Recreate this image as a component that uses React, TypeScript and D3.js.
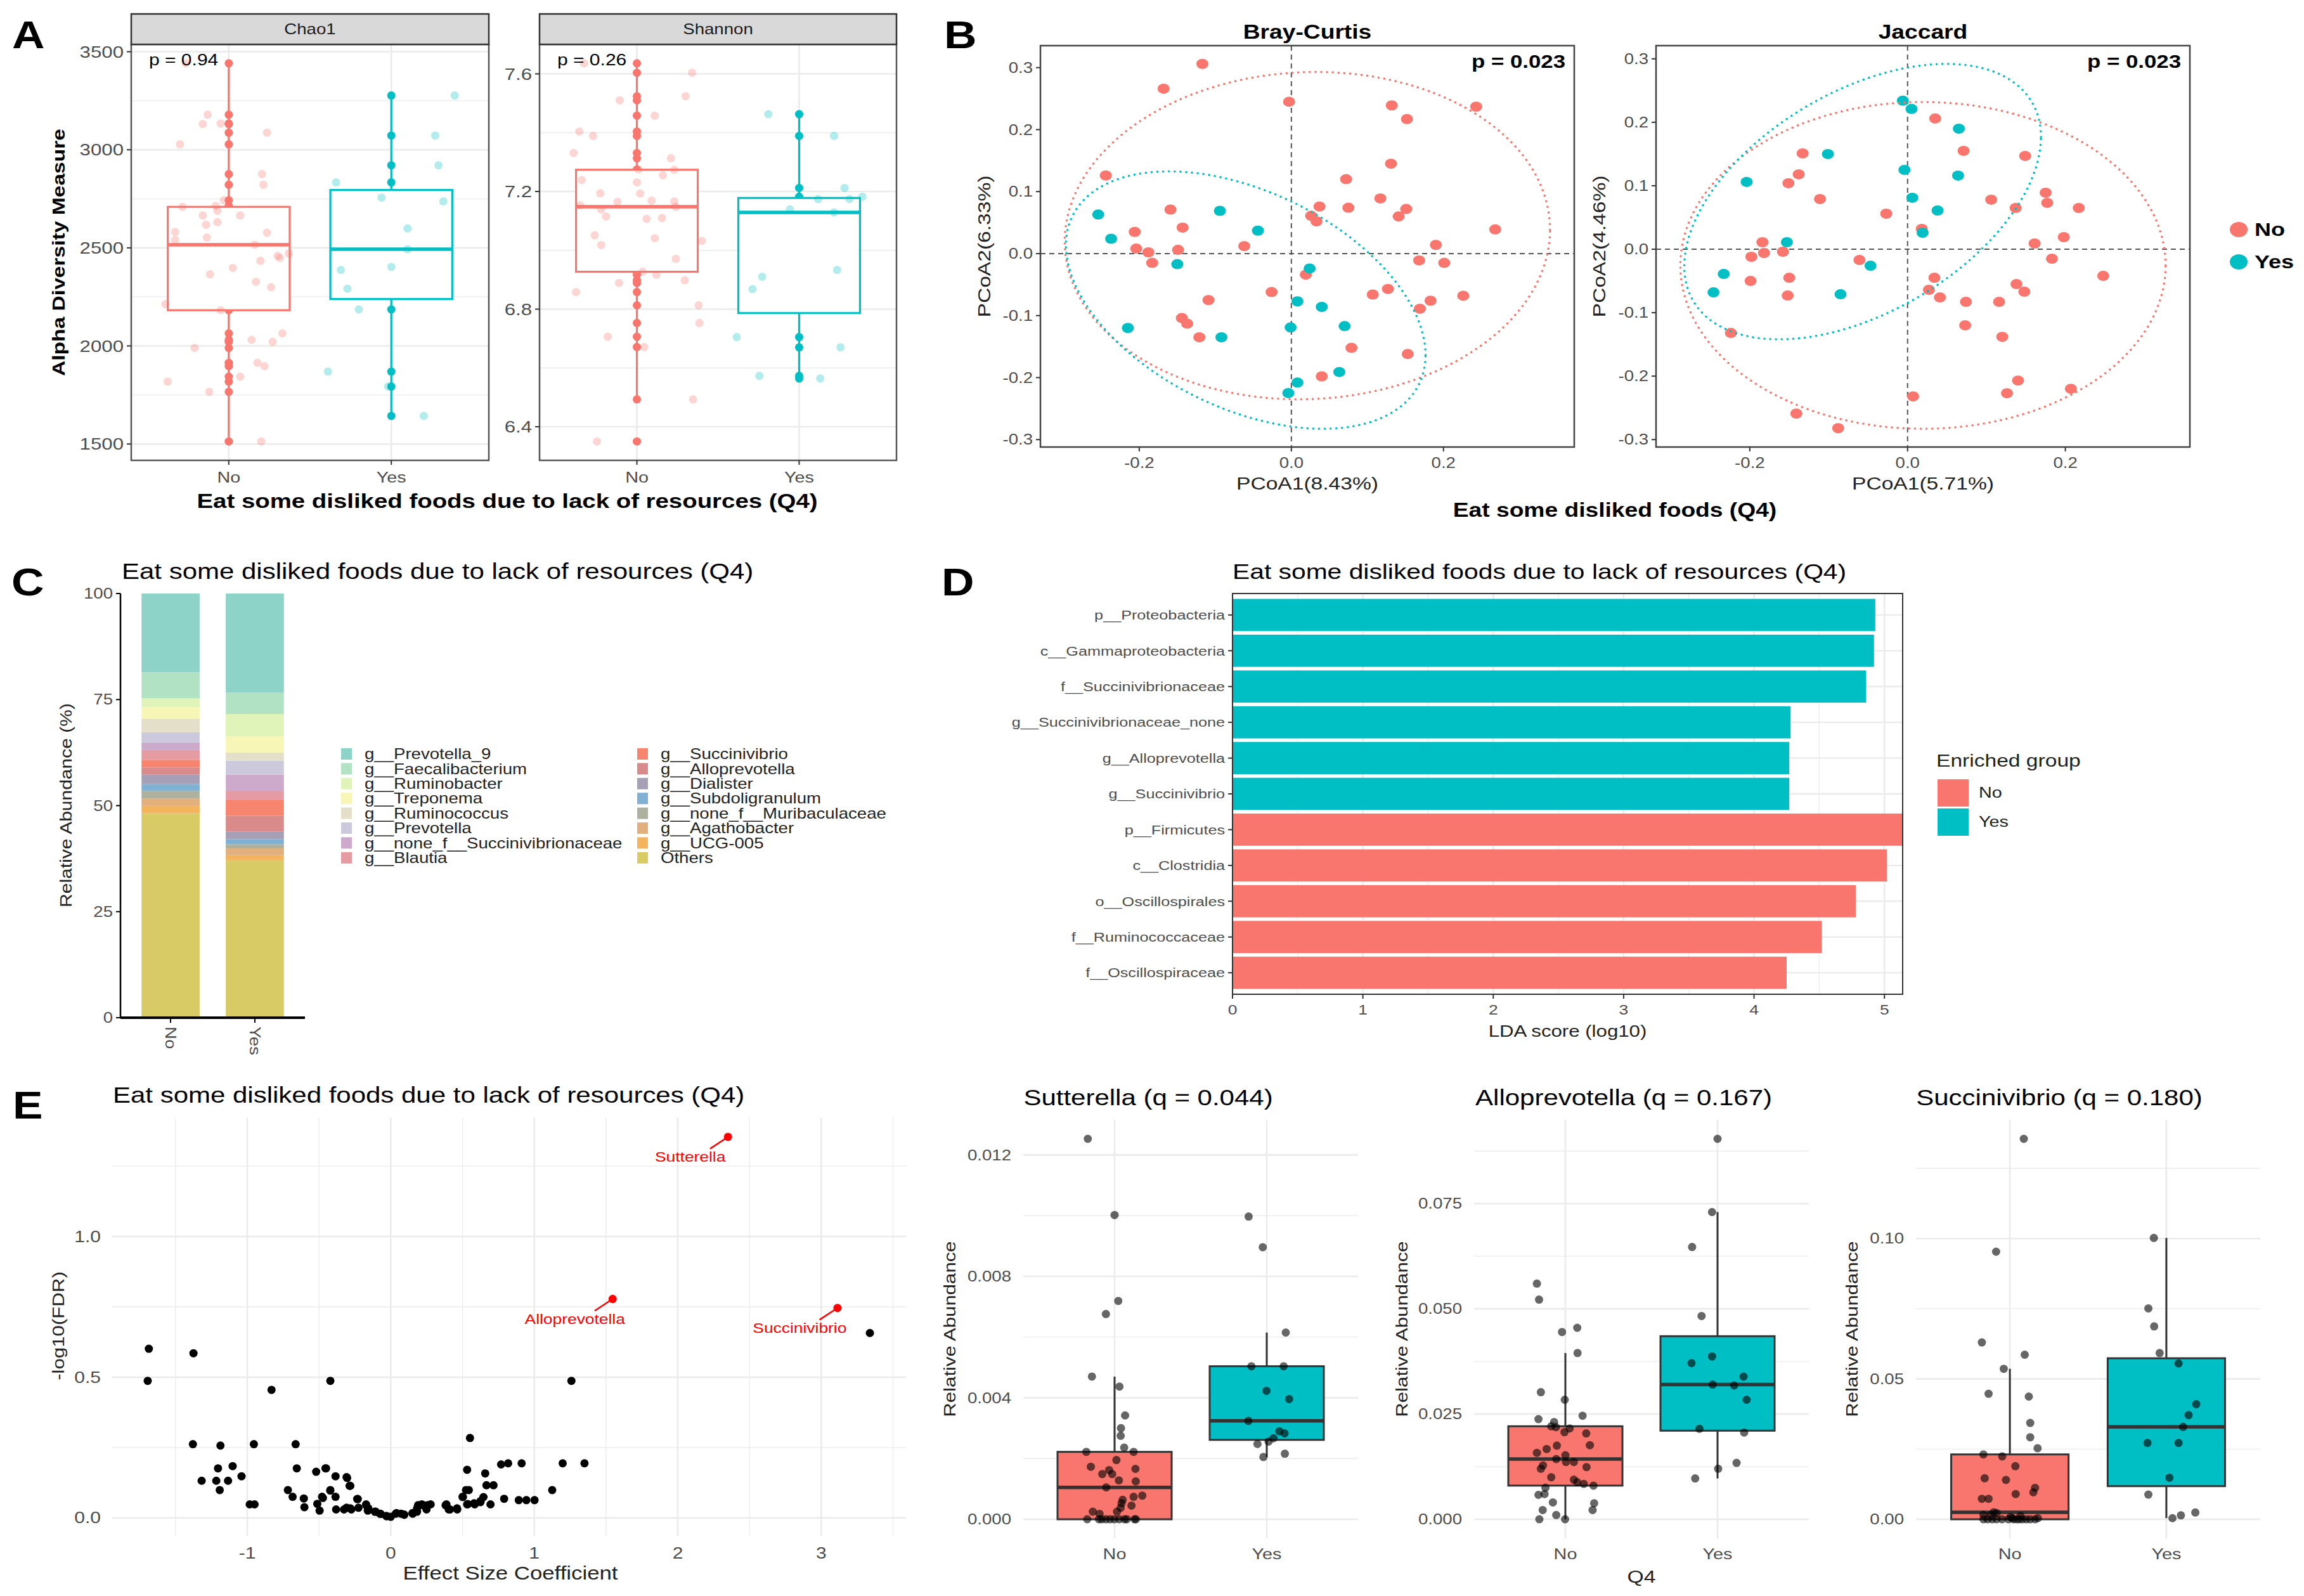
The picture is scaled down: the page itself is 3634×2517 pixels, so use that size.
import type { ReactNode } from "react";
import { scaleLinear, scaleBand, quantile, ascending, extent, stack, range, line } from "d3";

// ---------- A: alpha diversity ----------
const groupLabels = ["No", "Yes"];
const chao1No = [3441, 3179, 3131, 3134, 3087, 3028, 2876, 2822, 2743, 2709, 2714, 2689, 2665, 2665, 2618, 2631, 2581, 2577, 2540, 2553, 2516, 2471, 2459, 2449, 2434, 2398, 2365, 2327, 2299, 2213, 2182, 2064, 2031, 2021, 1990, 1914, 1897, 1818, 1843, 1766, 1513];
const chao1NoJit = [-0.265, -0.13, -0.16, -0.05, 0.235, -0.3, 0.205, 0.213, -0.03, -0.285, -0.08, -0.07, -0.16, 0.07, -0.14, -0.07, -0.33, 0.235, -0.33, -0.135, 0.16, 0.37, 0.3, 0.315, 0.195, 0.025, -0.115, 0.167, 0.26, -0.39, -0.05, 0.33, 0.14, 0.27, -0.21, 0.177, 0.22, -0.376, 0.07, -0.12, 0.2];
const chao1Yes = [3277, 3073, 2921, 2834, 2756, 2737, 2599, 2493, 2403, 2387, 2292, 2186, 1869, 1793, 1643];
const chao1YesJit = [0.39, 0.27, 0.29, -0.34, -0.06, 0.32, 0.1, 0.1, 0, -0.31, -0.27, -0.2, -0.39, -0.02, 0.2];
const shannonNo = [7.636, 7.604, 7.51, 7.524, 7.458, 7.404, 7.389, 7.331, 7.313, 7.274, 7.239, 7.231, 7.255, 7.194, 7.193, 7.165, 7.169, 7.166, 7.153, 7.139, 7.148, 7.115, 7.107, 7.11, 7.051, 7.041, 7.018, 7.032, 6.971, 6.927, 6.917, 6.889, 6.898, 6.858, 6.813, 6.753, 6.706, 6.671, 6.493, 6.35, 7.275];
const shannonNoJit = [-0.326, 0.34, -0.106, 0.3, 0.11, -0.355, -0.27, -0.39, 0.21, 0.23, -0.34, 0, 0.16, -0.226, 0.02, -0.12, 0.09, 0.23, -0.35, -0.22, 0.24, -0.19, 0.06, 0.155, -0.26, 0.11, -0.22, 0.4, 0.24, 0.035, 0.12, -0.11, 0.295, -0.375, 0.38, 0.385, -0.18, 0.045, 0.346, -0.246, 0.01];
const shannonYes = [7.463, 7.389, 7.212, 7.182, 7.174, 7.174, 7.139, 7.129, 6.933, 6.91, 6.868, 6.705, 6.67, 6.573, 6.564];
const shannonYesJit = [-0.19, 0.215, 0.28, 0.39, 0.117, 0.31, -0.057, 0.215, 0.234, -0.228, -0.288, -0.385, 0.255, -0.245, 0.13];
const chao1Ticks = [1500, 2000, 2500, 3000, 3500];
const shannonTicks = [6.4, 6.8, 7.2, 7.6];

// ---------- B: PCoA ----------
const brayNoX = [-0.117, -0.168, -0.003, 0.132, 0.243, 0.152, 0.131, -0.244, 0.072, 0.117, -0.159, 0.037, 0.075, 0.151, 0.026, 0.141, 0.033, -0.143, 0.268, -0.206, -0.062, 0.19, -0.204, -0.149, -0.188, -0.183, 0.168, 0.201, 0.019, -0.026, 0.127, 0.107, 0.226, -0.109, 0.183, 0.169, -0.144, -0.137, -0.121, 0.079, 0.153, 0.04];
const brayNoY = [0.306, 0.266, 0.245, 0.239, 0.237, 0.217, 0.145, 0.126, 0.12, 0.089, 0.071, 0.076, 0.074, 0.072, 0.061, 0.06, 0.052, 0.042, 0.039, 0.035, 0.012, 0.014, 0.008, 0.006, 0.002, -0.015, -0.011, -0.015, -0.034, -0.062, -0.057, -0.066, -0.068, -0.075, -0.076, -0.089, -0.104, -0.113, -0.135, -0.152, -0.162, -0.198];
const brayYesX = [-0.254, -0.094, -0.044, -0.237, -0.15, 0.024, 0.008, 0.04, -0.215, -0.001, 0.07, -0.092, 0.063, 0.008, -0.004];
const brayYesY = [0.063, 0.069, 0.037, 0.024, -0.017, -0.024, -0.077, -0.086, -0.12, -0.119, -0.117, -0.135, -0.191, -0.208, -0.225];
const jacNoX = [0.035, 0.071, 0.149, -0.133, -0.138, -0.151, -0.111, 0.106, 0.175, 0.177, 0.217, 0.137, -0.027, 0.018, 0.198, 0.161, -0.184, -0.158, -0.182, -0.198, 0.183, -0.061, 0.248, 0.034, -0.15, -0.199, 0.138, 0.027, 0.148, -0.152, 0.041, 0.074, 0.116, 0.073, 0.12, -0.224, 0.14, 0.207, 0.126, 0.007, -0.141, -0.088];
const jacNoY = [0.206, 0.155, 0.147, 0.151, 0.118, 0.104, 0.079, 0.078, 0.089, 0.073, 0.065, 0.065, 0.056, 0.032, 0.019, 0.009, 0.011, -0.004, -0.006, -0.012, -0.015, -0.017, -0.042, -0.045, -0.045, -0.05, -0.055, -0.064, -0.067, -0.073, -0.076, -0.083, -0.083, -0.12, -0.138, -0.132, -0.207, -0.22, -0.227, -0.232, -0.259, -0.282];
const jacYesX = [-0.006, 0.005, 0.065, -0.101, -0.004, 0.064, -0.204, 0.006, 0.038, 0.019, -0.153, -0.047, -0.233, -0.085, -0.246];
const jacYesY = [0.234, 0.221, 0.19, 0.15, 0.125, 0.116, 0.106, 0.081, 0.061, 0.026, 0.011, -0.026, -0.039, -0.071, -0.068];
// ellipse: centre x, centre y, var x, var y, cov
const brayEllNo = [0.021, 0.029, 0.1018, 0.0697, 0.003];
const brayEllYes = [-0.06, -0.075, 0.0559, 0.0431, -0.021];
const jacEllNo = [0.0195, -0.0255, 0.0946, 0.0663, 0];
const jacEllYes = [-0.057, 0.075, 0.0511, 0.0471, 0.023];
const pcoaXTicks = [-0.2, 0, 0.2];
const pcoaYTicks = [-0.3, -0.2, -0.1, 0, 0.1, 0.2, 0.3];

// ---------- C: composition ----------
const genera = ["g__Prevotella_9", "g__Faecalibacterium", "g__Ruminobacter", "g__Treponema", "g__Ruminococcus", "g__Prevotella", "g__none_f__Succinivibrionaceae", "g__Blautia", "g__Succinivibrio", "g__Alloprevotella", "g__Dialister", "g__Subdoligranulum", "g__none_f__Muribaculaceae", "g__Agathobacter", "g__UCG-005", "Others"];
const genusColors = ["#8DD3C7", "#B2E2C4", "#E0F3B9", "#F7F6B7", "#E3DFC8", "#CBC9DB", "#CDAACB", "#E49CA2", "#F7846F", "#D98A8B", "#A79FB5", "#80B1D3", "#AFB19F", "#E1B07C", "#F3B45C", "#D8CB66"];
const abundNo = [18.6, 6.1, 2.1, 2.7, 3.2, 2.4, 1.8, 2.3, 1.8, 1.7, 2.2, 1.7, 1.7, 1.8, 1.7, 48.2];
const abundYes = [23.4, 5.0, 5.3, 3.8, 1.9, 3.3, 3.8, 2.1, 3.8, 3.7, 1.8, 1.2, 1.0, 1.6, 1.2, 37.1];
const abundTicks = [0, 25, 50, 75, 100];

// ---------- D: LEfSe ----------
const ldaTaxa = ["p__Proteobacteria", "c__Gammaproteobacteria", "f__Succinivibrionaceae", "g__Succinivibrionaceae_none", "g__Alloprevotella", "g__Succinivibrio", "p__Firmicutes", "c__Clostridia", "o__Oscillospirales", "f__Ruminococcaceae", "f__Oscillospiraceae"];
const ldaScores = [4.93, 4.92, 4.86, 4.28, 4.27, 4.27, 5.14, 5.02, 4.78, 4.52, 4.25];
const ldaGroup = ["Yes", "Yes", "Yes", "Yes", "Yes", "Yes", "No", "No", "No", "No", "No"];
const ldaTicks = [0, 1, 2, 3, 4, 5];

// ---------- E: volcano ----------
const volcX = [-1.686, -1.694, -1.375, -0.421, -0.831, 1.259, 3.339, 0.552, -1.379, -1.187, -0.954, -0.663, -1.204, -1.102, -1.318, -1.216, -1.134, -1.192, -1.04, -0.983, -0.949, -0.655, -0.52, -0.455, -0.385, -0.308, -0.287, -0.717, -0.684, -0.606, -0.602, -0.512, -0.496, -0.479, -0.421, -0.385, -0.381, -0.308, -0.275, -0.234, -0.225, -0.172, -0.16, -0.111, -0.07, -0.029, 0, 0.04, 0.093, 0.151, 0.183, 0.216, 0.249, 0.278, 0.388, 0.413, 0.462, 0.503, 0.524, 0.544, 0.532, 0.532, 0.585, 0.626, 0.646, 0.695, 0.658, 0.667, 0.716, 0.769, 0.818, 0.79, 0.912, 0.892, 0.945, 1.002, 1.125, 1.198, 1.35, 0.5, 0.537, 0.581, 0.625, 0.382, 0.404, 0.463, 0.19, 0.227, 0.257, 0.153, 0.183, -0.031, 0.035, 0.072, 0.094, -0.105, -0.075, -0.326, -0.282, -0.23, -0.171, -0.156, -0.451, -0.304, -0.282, -0.422, -0.473];
const volcY = [0.601, 0.487, 0.585, 0.487, 0.455, 0.487, 0.657, 0.284, 0.262, 0.257, 0.262, 0.262, 0.176, 0.184, 0.132, 0.132, 0.132, 0.099, 0.148, 0.048, 0.048, 0.176, 0.164, 0.176, 0.148, 0.145, 0.114, 0.099, 0.075, 0.069, 0.038, 0.05, 0.026, 0.075, 0.099, 0.075, 0.03, 0.036, 0.03, 0.067, 0.036, 0.048, 0.026, 0.022, 0.014, 0.006, 0.004, 0.017, 0.012, 0.017, 0.034, 0.048, 0.03, 0.048, 0.048, 0.03, 0.034, 0.074, 0.099, 0.099, 0.171, 0.048, 0.048, 0.06, 0.074, 0.048, 0.158, 0.116, 0.116, 0.19, 0.194, 0.068, 0.194, 0.063, 0.063, 0.063, 0.099, 0.194, 0.194, 0.075, 0.049, 0.052, 0.056, 0.045, 0.03, 0.03, 0.045, 0.045, 0.045, 0.015, 0.022, 0.007, 0.015, 0.015, 0.011, 0.022, 0.015, 0.03, 0.034, 0.067, 0.045, 0.034, 0.176, 0.142, 0.114, 0.097, 0.071];
const hitNames = ["Sutterella", "Alloprevotella", "Succinivibrio"];
const hitX = [2.35, 1.546, 3.113];
const hitY = [1.354, 0.778, 0.746];
const volcXTicks = [-1, 0, 1, 2, 3];
const volcYTicks = [0, 0.5, 1.0];

// ---------- E: abundance boxplots ----------
const suttNo = [0.01253, 0.01002, 0.00719, 0.00676, 0.0047, 0.00437, 0.00342, 0.003, 0.00275, 0.00236, 0.00222, 0.00222, 0.00195, 0.00173, 0.00166, 0.00162, 0.00149, 0.00149, 0.00128, 0.00125, 0.00105, 0.00064, 0.00078, 0.00074, 0.00053, 0.00045, 0.00038, 0.00025, 0.00025, 0.00018, 0, 0, 0, 0, 0, 0, 0, 0, 0, 0, 0];
const suttNoJit = [-0.176, 0, 0.024, -0.057, -0.149, 0.032, 0.069, 0.042, 0.04, 0.063, -0.186, 0.125, 0.012, -0.156, 0.137, -0.036, -0.081, -0.016, 0.028, 0.139, -0.055, 0.053, 0.182, 0.125, 0.046, 0.111, 0.04, -0.143, 0.016, -0.099, -0.18, -0.103, -0.057, 0.03, 0.065, 0.131, -0.002, -0.085, -0.03, 0.08, 0.14];
const suttYes = [0.00997, 0.00896, 0.00615, 0.00504, 0.00504, 0.00423, 0.00396, 0.00324, 0.0029, 0.00283, 0.00267, 0.00248, 0.00256, 0.00216, 0.00205];
const suttYesJit = [-0.119, -0.026, 0.125, -0.101, 0.111, -0.002, 0.147, -0.121, 0.083, 0.117, 0.044, -0.061, 0.012, 0.119, -0.022];
const alloNo = [0.056, 0.0522, 0.0445, 0.0455, 0.0395, 0.0302, 0.0284, 0.0238, 0.0246, 0.0221, 0.0231, 0.0219, 0.0216, 0.0207, 0.0204, 0.0176, 0.0167, 0.0175, 0.0158, 0.0152, 0.0143, 0.0136, 0.0136, 0.0128, 0.012, 0.0124, 0.01, 0.0094, 0.0088, 0.0084, 0.008, 0.0075, 0.0058, 0.006, 0.004, 0.0038, 0.0022, 0.0022, 0.001, 0, 0];
const alloNoJit = [-0.187, -0.173, -0.022, 0.078, 0.08, -0.161, -0.004, -0.177, 0.113, -0.093, -0.074, -0.062, 0.028, -0.006, 0.137, 0.161, -0.123, -0.056, -0.187, 0, -0.06, 0.004, 0.056, -0.147, -0.161, 0.139, -0.093, 0.056, 0.078, 0.121, 0.185, -0.131, -0.177, -0.137, -0.082, 0.189, -0.149, 0.179, -0.06, -0.171, -0.002];
const alloYes = [0.0904, 0.073, 0.0647, 0.0483, 0.0387, 0.0371, 0.0339, 0.032, 0.0318, 0.0284, 0.0215, 0.0206, 0.0134, 0.012, 0.0097];
const alloYesJit = [0, -0.036, -0.167, -0.105, -0.036, -0.171, 0.171, -0.032, 0.109, 0.191, -0.119, 0.175, 0.125, 0.004, -0.147];
const succNo = [0.1355, 0.0953, 0.063, 0.0586, 0.0536, 0.0447, 0.0437, 0.0343, 0.0292, 0.0253, 0.0231, 0.0224, 0.0189, 0.0146, 0.014, 0.0112, 0.009, 0.0096, 0.0073, 0.0073, 0.0025, 0.0016, 0.0016, 0.0022, 0.0008, 0.0012, 0, 0, 0, 0, 0, 0, 0, 0.0004, 0, 0, 0, 0, 0.0004, 0, 0];
const succNoJit = [0.089, -0.088, -0.179, 0.095, -0.039, -0.136, 0.121, 0.13, 0.13, 0.177, -0.169, -0.049, 0.035, -0.161, -0.025, 0.161, 0.037, 0.15, -0.179, -0.136, -0.103, -0.169, -0.123, -0.084, 0.004, 0.068, -0.142, -0.113, -0.01, 0.023, 0.043, 0.105, 0.161, 0.179, -0.169, -0.05, 0.13, 0.08, 0.015, -0.085, 0.06];
const succYes = [0.1002, 0.0751, 0.0687, 0.0592, 0.0555, 0.041, 0.0371, 0.0329, 0.0272, 0.0272, 0.0148, 0.0088, 0.0004, 0.0014, 0.0024];
const succYesJit = [-0.08, -0.115, -0.078, -0.043, 0.078, 0.191, 0.142, 0.107, -0.121, 0.078, 0.019, -0.115, 0.039, 0.093, 0.185];

const FONT = "'Liberation Sans', Arial, Helvetica, sans-serif";
const TX = 1.2; // the figure's lettering is wider than it is tall
const RED = "#F8766D";
const TEAL = "#00BFC4";
const GRID = "#EBEBEB";
const AXIS_TXT = "#4D4D4D";
const TITLE_Q4 = "Eat some disliked foods due to lack of resources (Q4)";

function pad(lo: number, hi: number, f = 0.05): [number, number] {
    const d = (hi - lo) * f;
    return [lo - d, hi + d];
}

function boxStats(vals: number[]) {
    const s = [...vals].sort(ascending);
    const q1 = quantile(s, 0.25) as number;
    const med = quantile(s, 0.5) as number;
    const q3 = quantile(s, 0.75) as number;
    const iqr = q3 - q1;
    const lo = s.find((v) => v >= q1 - 1.5 * iqr) as number;
    const hi = [...s].reverse().find((v) => v <= q3 + 1.5 * iqr) as number;
    return { q1, med, q3, lo, hi };
}

function minorBreaks(major: number[], domain: number[]) {
    const step = major[1] - major[0];
    return [major[0] - step / 2, ...major.map((m) => m + step / 2)].filter(
        (v) => v > domain[0] && v < domain[1]
    );
}

interface TxtProps {
    x: number;
    y: number;
    size: number;
    children: ReactNode;
    anchor?: string;
    weight?: string | number;
    fill?: string;
    rotate?: number;
    base?: string;
    sx?: number;
}

function Txt({ x, y, size, children, anchor = "start", weight = "normal", fill = "#000", rotate = 0, base = "central", sx = TX }: TxtProps) {
    return (
        <text
            transform={`translate(${x},${y}) rotate(${rotate}) scale(${sx},1)`}
            fontSize={size}
            fontWeight={weight}
            fill={fill}
            textAnchor={anchor}
            dominantBaseline={base}
            fontFamily={FONT}
        >
            {children}
        </text>
    );
}

interface AlphaProps {
    title: string;
    left: number;
    right: number;
    no: number[];
    noJit: number[];
    yes: number[];
    yesJit: number[];
    ticks: number[];
    digits: number;
    pText: string;
}

function AlphaFacet({ title, left, right, no, noJit, yes, yesJit, ticks, digits, pText }: AlphaProps) {
    const top = 70;
    const bottom = 726;
    const [lo, hi] = extent([...no, ...yes]) as [number, number];
    const y = scaleLinear().domain(pad(lo, hi)).range([bottom, top]);
    const x = scaleLinear().domain([0.4, 2.6]).range([left, right]);
    const minor = minorBreaks(ticks, y.domain());
    const half = x(1.375) - x(1);
    const groups = [
        { pos: 1, vals: no, jit: noJit, col: RED },
        { pos: 2, vals: yes, jit: yesJit, col: TEAL },
    ];
    return (
        <g>
            <rect x={left} y={top} width={right - left} height={bottom - top} fill="#fff" />
            {minor.map((v) => (
                <line key={`mn${v}`} x1={left} x2={right} y1={y(v)} y2={y(v)} stroke={GRID} strokeWidth={1.3} />
            ))}
            {ticks.map((v) => (
                <line key={`mj${v}`} x1={left} x2={right} y1={y(v)} y2={y(v)} stroke={GRID} strokeWidth={2.6} />
            ))}
            {groups.map((g) => (
                <line key={`gx${g.pos}`} x1={x(g.pos)} x2={x(g.pos)} y1={top} y2={bottom} stroke={GRID} strokeWidth={2.6} />
            ))}
            {groups.map((g) =>
                g.vals.map((v, i) => <circle key={`s${g.pos}-${i}`} cx={x(g.pos)} cy={y(v)} r={6.5} fill={g.col} />)
            )}
            {groups.map((g) => {
                const b = boxStats(g.vals);
                const cx = x(g.pos);
                return (
                    <g key={`b${g.pos}`}>
                        <line x1={cx} x2={cx} y1={y(b.hi)} y2={y(b.q3)} stroke={g.col} strokeWidth={3.2} />
                        <line x1={cx} x2={cx} y1={y(b.q1)} y2={y(b.lo)} stroke={g.col} strokeWidth={3.2} />
                        <rect x={cx - half} y={y(b.q3)} width={2 * half} height={y(b.q1) - y(b.q3)} fill="#fff" stroke={g.col} strokeWidth={3.2} />
                        <line x1={cx - half} x2={cx + half} y1={y(b.med)} y2={y(b.med)} stroke={g.col} strokeWidth={5.5} />
                    </g>
                );
            })}
            {groups.map((g) =>
                g.vals.map((v, i) => (
                    <circle key={`j${g.pos}-${i}`} cx={x(g.pos + g.jit[i])} cy={y(v)} r={6.5} fill={g.col} fillOpacity={0.3} />
                ))
            )}
            <rect x={left} y={top} width={right - left} height={bottom - top} fill="none" stroke="#555" strokeWidth={2.5} />
            <rect x={left} y={22} width={right - left} height={top - 22} fill="#D9D9D9" stroke="#333" strokeWidth={2.5} />
            <Txt x={(left + right) / 2} y={46} size={23} anchor="middle" fill="#1A1A1A">{title}</Txt>
            {ticks.map((v) => (
                <g key={`t${v}`}>
                    <line x1={left - 7} x2={left} y1={y(v)} y2={y(v)} stroke="#333" strokeWidth={2} />
                    <Txt x={left - 12} y={y(v)} size={26} anchor="end" fill={AXIS_TXT}>{v.toFixed(digits)}</Txt>
                </g>
            ))}
            {groups.map((g, i) => (
                <g key={`c${g.pos}`}>
                    <line x1={x(g.pos)} x2={x(g.pos)} y1={bottom} y2={bottom + 7} stroke="#333" strokeWidth={2} />
                    <Txt x={x(g.pos)} y={753} size={24} anchor="middle" fill={AXIS_TXT}>{groupLabels[i]}</Txt>
                </g>
            ))}
            <Txt x={left + 28} y={94} size={25}>{pText}</Txt>
        </g>
    );
}

function ellipsePoints(e: number[]): [number, number][] {
    const [cx, cy, sxx, syy, sxy] = e;
    const l11 = Math.sqrt(sxx);
    const l21 = sxy / l11;
    const l22 = Math.sqrt(syy - l21 * l21);
    return range(0, 181).map((i) => {
        const t = (i / 180) * 2 * Math.PI;
        return [cx + l11 * Math.cos(t), cy + l21 * Math.cos(t) + l22 * Math.sin(t)];
    });
}

interface PcoaProps {
    title: string;
    left: number;
    right: number;
    noX: number[];
    noY: number[];
    yesX: number[];
    yesY: number[];
    ellNo: number[];
    ellYes: number[];
    xTitle: string;
    yTitle: string;
    yTitleX: number;
}

function PcoaPanel({ title, left, right, noX, noY, yesX, yesY, ellNo, ellYes, xTitle, yTitle, yTitleX }: PcoaProps) {
    const top = 72;
    const bottom = 705;
    const eNo = ellipsePoints(ellNo);
    const eYes = ellipsePoints(ellYes);
    const allX = [...noX, ...yesX, ...eNo.map((p) => p[0]), ...eYes.map((p) => p[0])];
    const allY = [...noY, ...yesY, ...eNo.map((p) => p[1]), ...eYes.map((p) => p[1])];
    const [x0, x1] = extent(allX) as [number, number];
    const [y0, y1] = extent(allY) as [number, number];
    const x = scaleLinear().domain(pad(x0, x1)).range([left, right]);
    const y = scaleLinear().domain(pad(y0, y1)).range([bottom, top]);
    const path = line<[number, number]>()
        .x((p) => x(p[0]))
        .y((p) => y(p[1]));
    return (
        <g>
            <rect x={left} y={top} width={right - left} height={bottom - top} fill="#fff" />
            <line x1={x(0)} x2={x(0)} y1={top} y2={bottom} stroke="#555" strokeWidth={2} strokeDasharray="8 6" />
            <line x1={left} x2={right} y1={y(0)} y2={y(0)} stroke="#555" strokeWidth={2} strokeDasharray="8 6" />
            {noX.map((v, i) => <ellipse key={`n${i}`} cx={x(v)} cy={y(noY[i])} rx={9.5} ry={8} fill={RED} />)}
            {yesX.map((v, i) => <ellipse key={`y${i}`} cx={x(v)} cy={y(yesY[i])} rx={9.5} ry={8} fill={TEAL} />)}
            <path d={path(eNo) ?? ""} fill="none" stroke={RED} strokeWidth={3.5} strokeDasharray="0.1 9" strokeLinecap="round" />
            <path d={path(eYes) ?? ""} fill="none" stroke={TEAL} strokeWidth={3.5} strokeDasharray="0.1 9" strokeLinecap="round" />
            <rect x={left} y={top} width={right - left} height={bottom - top} fill="none" stroke="#444" strokeWidth={2.5} />
            {pcoaYTicks.map((v) => (
                <g key={`yt${v}`}>
                    <line x1={left - 7} x2={left} y1={y(v)} y2={y(v)} stroke="#333" strokeWidth={2} />
                    <Txt x={left - 12} y={y(v)} size={23} anchor="end" fill={AXIS_TXT}>{v.toFixed(1)}</Txt>
                </g>
            ))}
            {pcoaXTicks.map((v) => (
                <g key={`xt${v}`}>
                    <line x1={x(v)} x2={x(v)} y1={bottom} y2={bottom + 7} stroke="#333" strokeWidth={2} />
                    <Txt x={x(v)} y={730} size={23} anchor="middle" fill={AXIS_TXT}>{v.toFixed(1)}</Txt>
                </g>
            ))}
            <Txt x={(left + right) / 2} y={50} size={31} anchor="middle" weight="bold">{title}</Txt>
            <Txt x={right - 14} y={97} size={29} anchor="end" weight="bold">p = 0.023</Txt>
            <Txt x={(left + right) / 2} y={762} size={28} anchor="middle" fill="#222">{xTitle}</Txt>
            <Txt x={yTitleX} y={(top + bottom) / 2} size={28} anchor="middle" rotate={-90} fill="#222">{yTitle}</Txt>
        </g>
    );
}

function CompositionPanel() {
    const left = 190;
    const right = 481;
    const top = 936;
    const bottom = 1605;
    const rows = groupLabels.map((g, gi) => {
        const row: Record<string, number | string> = { group: g };
        genera.forEach((k, i) => {
            row[k] = (gi === 0 ? abundNo : abundYes)[i];
        });
        return row;
    });
    const series = stack<Record<string, number | string>>()
        .keys([...genera].reverse())
        .value((d, k) => d[k] as number)(rows);
    const x = scaleBand().domain(groupLabels).range([left, right]).paddingInner(0.31).paddingOuter(0.25);
    const y = scaleLinear().domain([0, 100]).range([bottom, top]);
    const colorOf = (k: string) => genusColors[genera.indexOf(k)];
    return (
        <g>
            <Txt x={192} y={901} size={35}>{TITLE_Q4}</Txt>
            {series.map((s) =>
                s.map((d, i) => (
                    <rect
                        key={`${s.key}-${i}`}
                        x={x(groupLabels[i])}
                        y={y(d[1])}
                        width={x.bandwidth()}
                        height={y(d[0]) - y(d[1])}
                        fill={colorOf(s.key)}
                    />
                ))
            )}
            <line x1={left} x2={left} y1={top} y2={bottom} stroke="#000" strokeWidth={2.5} />
            <line x1={left} x2={right} y1={bottom} y2={bottom} stroke="#000" strokeWidth={4} />
            {abundTicks.map((v) => (
                <g key={`at${v}`}>
                    <line x1={left - 7} x2={left} y1={y(v)} y2={y(v)} stroke="#000" strokeWidth={2} />
                    <Txt x={left - 12} y={y(v)} size={23} anchor="end" fill={AXIS_TXT}>{v}</Txt>
                </g>
            ))}
            {groupLabels.map((g) => {
                const cx = (x(g) as number) + x.bandwidth() / 2;
                return (
                    <g key={`ax${g}`}>
                        <line x1={cx} x2={cx} y1={bottom} y2={bottom + 8} stroke="#000" strokeWidth={2} />
                        <Txt x={cx} y={bottom + 14} size={23} rotate={90} fill={AXIS_TXT}>{g}</Txt>
                    </g>
                );
            })}
            <Txt x={104} y={1270} size={25} anchor="middle" rotate={-90} fill="#222">Relative Abundance (%)</Txt>
            {genera.map((k, i) => {
                const col = Math.floor(i / 8);
                const row = i % 8;
                const kx = col === 0 ? 538 : 1005;
                const ky = 1189 + row * 23.4;
                return (
                    <g key={`lg${k}`}>
                        <rect x={kx} y={ky - 9} width={17} height={18} fill={genusColors[i]} />
                        <Txt x={kx + 37} y={ky} size={23} fill="#222">{k}</Txt>
                    </g>
                );
            })}
        </g>
    );
}

function LdaPanel() {
    const left = 1944;
    const right = 3001;
    const top = 936;
    const bottom = 1568;
    const x = scaleLinear().domain([0, Math.max(...ldaScores)]).range([left, right]);
    const y = scaleBand().domain(ldaTaxa).range([top, bottom]).paddingInner(0.1).paddingOuter(0.15);
    const minor = minorBreaks(ldaTicks, x.domain());
    return (
        <g>
            <Txt x={1944} y={901} size={34}>{TITLE_Q4}</Txt>
            <rect x={left} y={top} width={right - left} height={bottom - top} fill="#fff" />
            {minor.map((v) => (
                <line key={`lm${v}`} x1={x(v)} x2={x(v)} y1={top} y2={bottom} stroke={GRID} strokeWidth={1.2} />
            ))}
            {ldaTicks.map((v) => (
                <line key={`lj${v}`} x1={x(v)} x2={x(v)} y1={top} y2={bottom} stroke={GRID} strokeWidth={2.4} />
            ))}
            {ldaTaxa.map((t) => {
                const cy = (y(t) as number) + y.bandwidth() / 2;
                return <line key={`lh${t}`} x1={left} x2={right} y1={cy} y2={cy} stroke={GRID} strokeWidth={2.4} />;
            })}
            {ldaTaxa.map((t, i) => (
                <rect key={`lb${t}`} x={left} y={y(t)} width={x(ldaScores[i]) - left} height={y.bandwidth()} fill={ldaGroup[i] === "No" ? RED : TEAL} />
            ))}
            <rect x={left} y={top} width={right - left} height={bottom - top} fill="none" stroke="#333" strokeWidth={2} />
            {ldaTaxa.map((t) => {
                const cy = (y(t) as number) + y.bandwidth() / 2;
                return (
                    <g key={`ll${t}`}>
                        <line x1={left - 7} x2={left} y1={cy} y2={cy} stroke="#333" strokeWidth={2} />
                        <Txt x={left - 12} y={cy} size={21} anchor="end" fill={AXIS_TXT}>{t}</Txt>
                    </g>
                );
            })}
            {ldaTicks.map((v) => (
                <g key={`lx${v}`}>
                    <line x1={x(v)} x2={x(v)} y1={bottom} y2={bottom + 7} stroke="#333" strokeWidth={2} />
                    <Txt x={x(v)} y={1592} size={22} anchor="middle" fill={AXIS_TXT}>{v}</Txt>
                </g>
            ))}
            <Txt x={(left + right) / 2} y={1626} size={26} anchor="middle" fill="#222">LDA score (log10)</Txt>
            <Txt x={3054} y={1199} size={28} fill="#222">Enriched group</Txt>
            {groupLabels.map((g, i) => (
                <g key={`lk${g}`}>
                    <rect x={3056} y={1229 + i * 46} width={49} height={43} fill={i === 0 ? RED : TEAL} />
                    <Txt x={3121} y={1250 + i * 46} size={24} fill="#222">{g}</Txt>
                </g>
            ))}
        </g>
    );
}

function VolcanoPanel() {
    const left = 176;
    const right = 1429;
    const top = 1763;
    const bottom = 2422;
    const allX = [...volcX, ...hitX];
    const allY = [...volcY, ...hitY];
    const [x0, x1] = extent(allX) as [number, number];
    const [y0, y1] = extent(allY) as [number, number];
    const x = scaleLinear().domain(pad(x0, x1)).range([left, right]);
    const y = scaleLinear().domain(pad(y0, y1)).range([bottom, top]);
    const xMinor = minorBreaks(volcXTicks, x.domain());
    const yMinor = minorBreaks(volcYTicks, y.domain());
    return (
        <g>
            <Txt x={178} y={1727} size={35}>{TITLE_Q4}</Txt>
            {xMinor.map((v) => <line key={`vxm${v}`} x1={x(v)} x2={x(v)} y1={top} y2={bottom} stroke={GRID} strokeWidth={1.3} />)}
            {yMinor.map((v) => <line key={`vym${v}`} x1={left} x2={right} y1={y(v)} y2={y(v)} stroke={GRID} strokeWidth={1.3} />)}
            {volcXTicks.map((v) => <line key={`vxj${v}`} x1={x(v)} x2={x(v)} y1={top} y2={bottom} stroke={GRID} strokeWidth={2.6} />)}
            {volcYTicks.map((v) => <line key={`vyj${v}`} x1={left} x2={right} y1={y(v)} y2={y(v)} stroke={GRID} strokeWidth={2.6} />)}
            {volcX.map((v, i) => <circle key={`vp${i}`} cx={x(v)} cy={y(volcY[i])} r={6.5} fill="#000" />)}
            {hitNames.map((n, i) => (
                <g key={`hit${n}`}>
                    <line x1={x(hitX[i])} y1={y(hitY[i])} x2={x(hitX[i] - 0.125)} y2={y(hitY[i] - 0.042)} stroke="#FF0000" strokeWidth={2.5} />
                    <circle cx={x(hitX[i])} cy={y(hitY[i])} r={6.5} fill="#FF0000" />
                    <Txt x={x(hitX[i] - 0.263)} y={y(hitY[i] - 0.071)} size={22} anchor="middle" fill="#FF0000">{n}</Txt>
                </g>
            ))}
            {volcXTicks.map((v) => (
                <Txt key={`vxl${v}`} x={x(v)} y={2449} size={25} anchor="middle" fill={AXIS_TXT}>{v}</Txt>
            ))}
            {volcYTicks.map((v) => (
                <Txt key={`vyl${v}`} x={159} y={y(v)} size={25} anchor="end" fill={AXIS_TXT}>{v.toFixed(1)}</Txt>
            ))}
            <Txt x={805} y={2481} size={29} anchor="middle" fill="#222">Effect Size Coefficient</Txt>
            <Txt x={92} y={2091} size={26} anchor="middle" rotate={-90} fill="#222">-log10(FDR)</Txt>
        </g>
    );
}

interface AbundProps {
    title: string;
    titleX: number;
    left: number;
    right: number;
    no: number[];
    noJit: number[];
    yes: number[];
    yesJit: number[];
    ticks: number[];
    digits: number;
    yTitleX: number;
    xTitle?: string;
}

function AbundanceBox({ title, titleX, left, right, no, noJit, yes, yesJit, ticks, digits, yTitleX, xTitle }: AbundProps) {
    const top = 1766;
    const bottom = 2426;
    const [lo, hi] = extent([...no, ...yes]) as [number, number];
    const y = scaleLinear().domain(pad(lo, hi)).range([bottom, top]);
    const x = scaleLinear().domain([0.4, 2.6]).range([left, right]);
    const minor = minorBreaks(ticks, y.domain());
    const half = x(1.375) - x(1);
    const groups = [
        { pos: 1, vals: no, jit: noJit, col: RED },
        { pos: 2, vals: yes, jit: yesJit, col: TEAL },
    ];
    return (
        <g>
            {minor.map((v) => <line key={`am${v}`} x1={left} x2={right} y1={y(v)} y2={y(v)} stroke={GRID} strokeWidth={1.3} />)}
            {ticks.map((v) => <line key={`aj${v}`} x1={left} x2={right} y1={y(v)} y2={y(v)} stroke={GRID} strokeWidth={2.6} />)}
            {groups.map((g) => <line key={`ag${g.pos}`} x1={x(g.pos)} x2={x(g.pos)} y1={top} y2={bottom} stroke={GRID} strokeWidth={2.6} />)}
            {groups.map((g) => {
                const b = boxStats(g.vals);
                const cx = x(g.pos);
                return (
                    <g key={`ab${g.pos}`}>
                        <line x1={cx} x2={cx} y1={y(b.hi)} y2={y(b.q3)} stroke="#333" strokeWidth={3} />
                        <line x1={cx} x2={cx} y1={y(b.q1)} y2={y(b.lo)} stroke="#333" strokeWidth={3} />
                        <rect x={cx - half} y={y(b.q3)} width={2 * half} height={Math.max(1, y(b.q1) - y(b.q3))} fill={g.col} stroke="#333" strokeWidth={3} />
                        <line x1={cx - half} x2={cx + half} y1={y(b.med)} y2={y(b.med)} stroke="#333" strokeWidth={5.5} />
                    </g>
                );
            })}
            {groups.map((g) =>
                g.vals.map((v, i) => (
                    <circle key={`ap${g.pos}-${i}`} cx={x(g.pos + g.jit[i])} cy={y(v)} r={6.5} fill="#000" fillOpacity={0.6} />
                ))
            )}
            <Txt x={titleX} y={1731} size={35} anchor="middle">{title}</Txt>
            {ticks.map((v) => (
                <Txt key={`al${v}`} x={left - 19} y={y(v)} size={23} anchor="end" fill={AXIS_TXT}>{v.toFixed(digits)}</Txt>
            ))}
            {groups.map((g, i) => (
                <Txt key={`ax${g.pos}`} x={x(g.pos)} y={2451} size={24} anchor="middle" fill={AXIS_TXT}>{groupLabels[i]}</Txt>
            ))}
            <Txt x={yTitleX} y={2096} size={26} anchor="middle" rotate={-90} fill="#222">Relative Abundance</Txt>
            {xTitle && <Txt x={(left + right) / 2} y={2486} size={28} anchor="middle" fill="#222">{xTitle}</Txt>}
        </g>
    );
}

export default function App() {
    const letter = (t: string, x: number, y: number) => (
        <Txt x={x} y={y} size={62} weight="bold" base="auto" sx={1.15}>{t}</Txt>
    );
    return (
        <svg
            width={3634}
            height={2517}
            viewBox="0 0 3634 2517"
            style={{ position: "absolute", left: 0, top: 0, display: "block", background: "#fff" }}
        >
            <rect x={0} y={0} width={3634} height={2517} fill="#fff" />
            {letter("A", 19, 76)}
            {letter("B", 1489, 76)}
            {letter("C", 18, 939)}
            {letter("D", 1485, 939)}
            {letter("E", 20, 1764)}

            <AlphaFacet title="Chao1" left={207} right={771} no={chao1No} noJit={chao1NoJit} yes={chao1Yes} yesJit={chao1YesJit} ticks={chao1Ticks} digits={0} pText="p = 0.94" />
            <AlphaFacet title="Shannon" left={851} right={1414} no={shannonNo} noJit={shannonNoJit} yes={shannonYes} yesJit={shannonYesJit} ticks={shannonTicks} digits={1} pText="p = 0.26" />
            <Txt x={92} y={398} size={28} anchor="middle" rotate={-90} weight="bold">Alpha Diversity Measure</Txt>
            <Txt x={800} y={790} size={32} anchor="middle" weight="bold">{TITLE_Q4}</Txt>

            <PcoaPanel title="Bray-Curtis" left={1641} right={2483} noX={brayNoX} noY={brayNoY} yesX={brayYesX} yesY={brayYesY} ellNo={brayEllNo} ellYes={brayEllYes} xTitle="PCoA1(8.43%)" yTitle="PCoA2(6.33%)" yTitleX={1552} />
            <PcoaPanel title="Jaccard" left={2612} right={3454} noX={jacNoX} noY={jacNoY} yesX={jacYesX} yesY={jacYesY} ellNo={jacEllNo} ellYes={jacEllYes} xTitle="PCoA1(5.71%)" yTitle="PCoA2(4.46%)" yTitleX={2522} />
            {groupLabels.map((g, i) => (
                <g key={`pl${g}`}>
                    <ellipse cx={3531} cy={362 + i * 51} rx={14} ry={12} fill={i === 0 ? RED : TEAL} />
                    <Txt x={3556} y={362 + i * 51} size={30} weight="bold">{g}</Txt>
                </g>
            ))}
            <Txt x={2547} y={804} size={31} anchor="middle" weight="bold">Eat some disliked foods (Q4)</Txt>

            <CompositionPanel />
            <LdaPanel />
            <VolcanoPanel />

            <AbundanceBox title="Sutterella (q = 0.044)" titleX={1811} left={1614} right={2142} no={suttNo} noJit={suttNoJit} yes={suttYes} yesJit={suttYesJit} ticks={[0, 0.004, 0.008, 0.012]} digits={3} yTitleX={1498} />
            <AbundanceBox title="Alloprevotella (q = 0.167)" titleX={2561} left={2325} right={2853} no={alloNo} noJit={alloNoJit} yes={alloYes} yesJit={alloYesJit} ticks={[0, 0.025, 0.05, 0.075]} digits={3} yTitleX={2211} xTitle="Q4" />
            <AbundanceBox title="Succinivibrio (q = 0.180)" titleX={3248} left={3022} right={3565} no={succNo} noJit={succNoJit} yes={succYes} yesJit={succYesJit} ticks={[0, 0.05, 0.1]} digits={2} yTitleX={2921} />
        </svg>
    );
}
